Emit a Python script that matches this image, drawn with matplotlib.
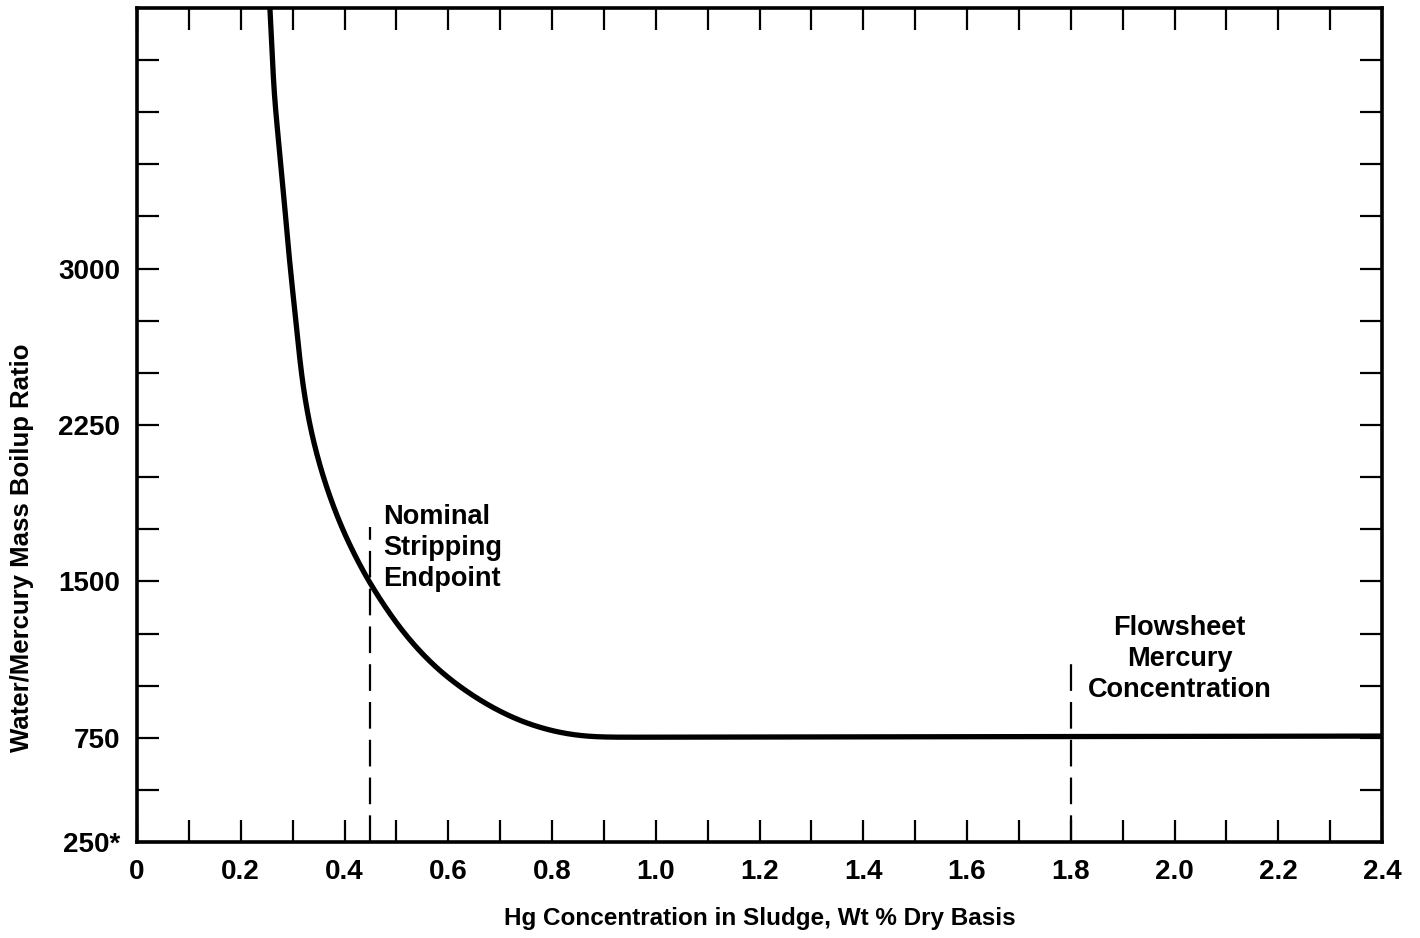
import matplotlib
matplotlib.use("Agg")
import matplotlib.pyplot as plt
import numpy as np

# Data
hg_conc = [0.256, 0.2647, 0.2743, 0.2834, 0.2917, 0.3001, 0.3079, 0.3175, 0.3335, 0.3591,
           0.3946, 0.4428, 0.507, 0.571, 0.636, 0.700, 0.763, 0.829, 0.86, 1.2, 1.8, 2.4]
boilup = [4260, 3817, 3577, 3337, 3096, 2890, 2712, 2471, 2231, 1990,
          1750, 1510, 1269, 1091, 966, 870, 803, 764, 752, 754, 756, 758]

xticks = [0, 0.2, 0.4, 0.6, 0.8, 1.0, 1.2, 1.4, 1.6, 1.8, 2.0, 2.2, 2.4]
xticklabels = ["0", "0.2", "0.4", "0.6", "0.8", "1.0", "1.2", "1.4", "1.6", "1.8", "2.0", "2.2", "2.4"]
yticks_major = [250, 750, 1500, 2250, 3000]
yticklabels = ["250*", "750", "1500", "2250", "3000"]

endpoint_x = 0.45
endpoint_top = 1760
flowsheet_x = 1.8
flowsheet_top = 1139

plt.rcParams['font.family'] = ['Liberation Sans', 'DejaVu Sans']
plt.rcParams['font.weight'] = 'bold'

fig = plt.figure(figsize=(14.2, 9.38), dpi=100)
ax = fig.add_axes([137/1420, 96/938, (1382-137)/1420, (842-8)/938])
ax.set_xlim(0, 2.4)
ax.set_ylim(250, 4250)

# Smooth the read polyline in display space (drawing only): resample by arc length,
# then Gaussian-smooth with odd-reflection padding so straight ends are preserved.
pts = ax.transData.transform(np.column_stack([hg_conc, boilup]))
seg = np.hypot(*np.diff(pts, axis=0).T)
s = np.concatenate([[0], np.cumsum(seg)])
ss = np.arange(0, s[-1], 1.0)
px = np.interp(ss, s, pts[:, 0]); py = np.interp(ss, s, pts[:, 1])
sig = 22.0
half = 70
k = np.arange(-half, half + 1); w = np.exp(-0.5 * (k / sig) ** 2); w /= w.sum()
def smooth(v):
    n = half
    left = 2 * v[0] - v[1:n+1][::-1]
    right = 2 * v[-1] - v[-n-1:-1][::-1]
    vv = np.concatenate([left, v, right])
    return np.convolve(vv, w, mode='same')[n:-n]
curve = ax.transData.inverted().transform(np.column_stack([smooth(px), smooth(py)]))
ax.plot(curve[:, 0], curve[:, 1], color='black', lw=3.8, solid_capstyle='butt',
        solid_joinstyle='round')

dash = (0, (12, 5))
ax.plot([endpoint_x, endpoint_x], [250, endpoint_top], color='black', lw=1.6, linestyle=dash)
ax.plot([flowsheet_x, flowsheet_x], [250, flowsheet_top], color='black', lw=1.6, linestyle=dash)

ax.set_xticks(xticks)
ax.set_xticklabels(xticklabels)
ax.set_xticks(np.arange(0.1, 2.4, 0.1), minor=True)
ax.set_yticks(yticks_major)
ax.set_yticklabels(yticklabels)
ax.set_yticks(np.arange(500, 4250, 250), minor=True)

for axis in ('x', 'y'):
    ax.tick_params(axis=axis, which='both', direction='in', length=16, width=1.6,
                   top=True, right=True, labelsize=20, color='black')
ax.tick_params(axis='x', which='major', pad=12)
ax.tick_params(axis='y', which='major', pad=12)
for lbl in ax.get_xticklabels() + ax.get_yticklabels():
    lbl.set_fontweight('bold')

for sp in ax.spines.values():
    sp.set_linewidth(2.6)

ax.set_xlabel("Hg Concentration in Sludge, Wt % Dry Basis", fontsize=17.5, fontweight='bold', labelpad=16)
ax.set_ylabel("Water/Mercury Mass Boilup Ratio", fontsize=18.5, fontweight='bold', va='center')
ax.yaxis.set_label_coords(-(137-22)/1245, (842-548)/834)

ax.text(0.474, 1870, "Nominal\nStripping\nEndpoint", fontsize=19.5, fontweight='bold',
        ha='left', va='top', linespacing=1.25)
ax.text(2.01, 1128, "Flowsheet\nMercury\nConcentration", fontsize=19.5, fontweight='bold',
        ha='center', va='center', linespacing=1.27)

fig.savefig("out.png", dpi=100)
